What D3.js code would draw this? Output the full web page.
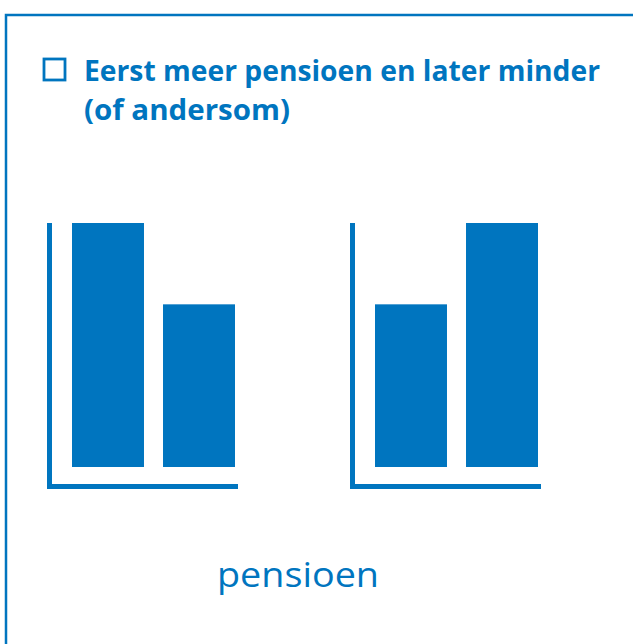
<!DOCTYPE html>
<html>
<head>
  <meta charset='utf-8'>
  <title>pensioen</title>
  <script src='https://cdn.jsdelivr.net/npm/d3@7'></script>
  <style>
    body { margin: 0; background: #fff; }
  </style>
</head>
<body>
  <script>
    // data
    const titleLines = ['Eerst meer pensioen en later minder', '(of andersom)'];
    const bars = ['eerst', 'later'];
    const leftValues = [3, 2];   // eerst meer, later minder
    const rightValues = [2, 3];  // of andersom
    const axisLabel = 'pensioen';

    const width = 633, height = 644;
    const blue = '#0075bf';

    const svg = d3.select('body').append('svg')
      .attr('width', width)
      .attr('height', height);

    // frame (top + left edge)
    svg.append('path')
      .attr('d', `M6,${height} V15 H${width}`)
      .attr('fill', 'none')
      .attr('stroke', blue)
      .attr('stroke-width', 2.5);

    // checkbox
    svg.append('rect')
      .attr('x', 44).attr('y', 59)
      .attr('width', 21).attr('height', 21)
      .attr('fill', 'none')
      .attr('stroke', blue)
      .attr('stroke-width', 2.8);

    svg.append('g')
      .attr('font-family', 'Open Sans, sans-serif')
      .attr('font-weight', 700)
      .attr('font-size', 28.5)
      .attr('fill', blue)
      .selectAll('text')
      .data(titleLines)
      .join('text')
      .attr('x', 84)
      .attr('y', (d, i) => 81 + i * 39)
      .attr('textLength', (d, i) => i === 0 ? 516 : 206)
      .attr('lengthAdjust', 'spacingAndGlyphs')
      .text(d => d);

    const y = d3.scaleLinear().domain([0, 3]).range([467, 223]);

    function miniChart(x0, values) {
      const x = d3.scaleBand().domain(bars).range([x0 + 25, x0 + 188]).paddingInner(0.209).paddingOuter(0);
      const g = svg.append('g');
      g.selectAll('rect')
        .data(values)
        .join('rect')
        .attr('x', (d, i) => x(bars[i]))
        .attr('y', d => y(d))
        .attr('width', x.bandwidth())
        .attr('height', d => y(0) - y(d))
        .attr('fill', blue);
      g.append('path')
        .attr('d', `M${x0 + 2.5},${y.range()[1]} V486.5 H${x0 + 191}`)
        .attr('fill', 'none')
        .attr('stroke', blue)
        .attr('stroke-width', 5);
    }

    miniChart(47, leftValues);
    miniChart(350, rightValues);

    svg.append('text')
      .attr('x', 298)
      .attr('y', 587)
      .attr('text-anchor', 'middle')
      .attr('font-family', 'Open Sans, sans-serif')
      .attr('font-size', 35)
      .attr('fill', blue)
      .attr('textLength', 162)
      .attr('lengthAdjust', 'spacingAndGlyphs')
      .text(axisLabel);
  </script>
</body>
</html>
